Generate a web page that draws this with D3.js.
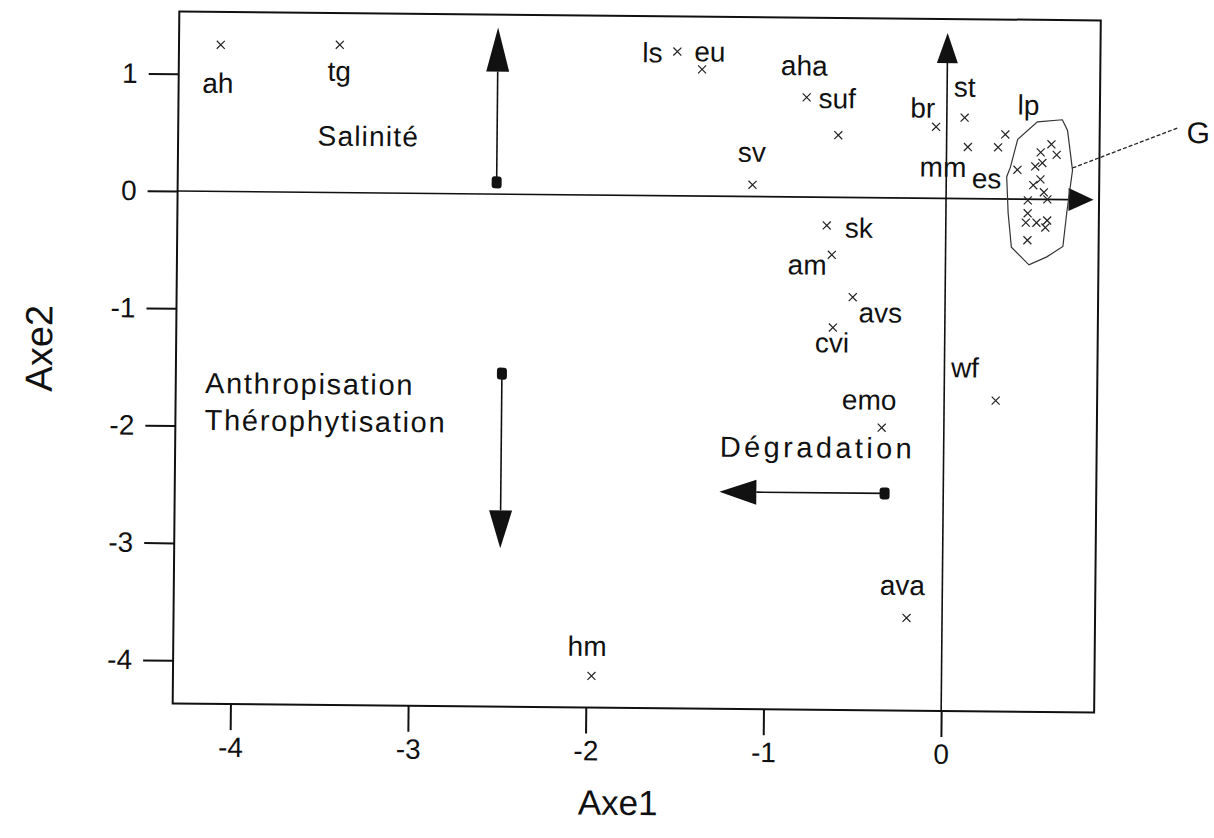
<!DOCTYPE html>
<html>
<head>
<meta charset="utf-8">
<script src="https://cdn.jsdelivr.net/npm/d3@7"></script>
<style>
  html, body { margin: 0; background: #fff; }
  svg { display: block; }
  text { font-family: "Liberation Sans", Arial, sans-serif; fill: #111; }
</style>
</head>
<body>
<svg id="chart" width="1214" height="838"></svg>
<script>
// Species scores on the first two ordination axes
const speciesCodes = ["ah", "tg", "ls", "eu", "aha", "suf", "sv", "br", "st", "mm", "lp", "es", "sk", "am", "avs", "cvi", "emo", "wf", "ava", "hm"];
const speciesAxe1 = [-4.09, -3.42, -1.52, -1.38, -0.79, -0.61, -1.09, -0.06, 0.10, 0.12, 0.33, 0.29, -0.67, -0.64, -0.52, -0.63, -0.35, 0.29, -0.20, -1.97];
const speciesAxe2 = [1.25, 1.26, 1.23, 1.08, 0.85, 0.53, 0.10, 0.61, 0.69, 0.44, 0.55, 0.44, -0.24, -0.49, -0.85, -1.11, -1.96, -1.72, -3.58, -4.10];

// Unlabelled species forming group G
const groupGAxe1 = [0.40, 0.53, 0.59, 0.62, 0.54, 0.50, 0.53, 0.49, 0.55, 0.46, 0.57, 0.46, 0.45, 0.51, 0.57, 0.56, 0.46];
const groupGAxe2 = [0.25, 0.40, 0.47, 0.38, 0.31, 0.28, 0.17, 0.12, 0.06, -0.01, 0.00, -0.12, -0.20, -0.20, -0.18, -0.24, -0.35];

// Outline drawn round group G and the leader to its letter
const groupGHullAxe1 = [0.36, 0.40, 0.51, 0.65, 0.68, 0.71, 0.68, 0.66, 0.57, 0.47, 0.37, 0.35, 0.34];
const groupGHullAxe2 = [0.27, 0.51, 0.66, 0.68, 0.59, 0.25, -0.11, -0.40, -0.49, -0.56, -0.41, -0.12, 0.19];
const groupGLeaderAxe1 = [0.71, 1.30];
const groupGLeaderAxe2 = [0.27, 0.62];
const groupGName = "G";

// Ecological gradients (arrow from dot to head)
const gradientNames = [["Salinité"], ["Anthropisation", "Thérophytisation"], ["Dégradation"]];
const gradientFromAxe1 = [-2.53, -2.49, -0.33];
const gradientFromAxe2 = [0.10, -1.53, -2.52];
const gradientToAxe1 = [-2.53, -2.49, -1.26];
const gradientToAxe2 = [1.42, -3.02, -2.52];

// Axis ticks and titles
const xTicks = [-4, -3, -2, -1, 0];
const yTicks = [1, 0, -1, -2, -3, -4];
const xTitle = "Axe1";
const yTitle = "Axe2";

// ---- layout ----
const W = 1214, H = 838;
const plot = { left: 176, right: 1097.5, top: 16, bottom: 708 };
const tilt = 0.55; // the printed figure sits slightly askew

// label offsets (pixels) from each species marker: [dx, dy] to text start / baseline
const labelOffset = {
  ah: [-18, 48], tg: [-12, 36], ls: [-35, 11], eu: [-8, -8], aha: [-26, -22], suf: [-20, -27],
  sv: [-15, -23], br: [-26, -9], st: [-11, -21], mm: [-48, 30], lp: [12, -20], es: [-26, 41],
  sk: [18, 12], am: [-44, 20], avs: [6, 25], cvi: [-18, 25], emo: [-40, -18], wf: [-45, -23],
  ava: [-27, -23], hm: [-24, -20]
};
// text anchors of the gradient names, in axis units
const gradientLabelAxe1 = [-3.54, -4.16, -1.26];
const gradientLabelAxe2 = [0.40, -1.72, -2.22];
const gradientFontSize = [28, 29, 29];
const gradientLetterSpacing = [1.2, 1.7, 3.4];
// arrow heads: [length, width]
const gradientHead = [[44, 23], [38, 23], [37, 25]];

const x = d3.scaleLinear().domain([-4.325, 0.861]).range([plot.left, plot.right]);
const y = d3.scaleLinear().domain([-4.37, 1.53]).range([plot.bottom, plot.top]);

const svg = d3.select("#chart");
svg.append("rect").attr("width", W).attr("height", H).attr("fill", "#fff");

const g = svg.append("g")
  .attr("transform", `rotate(${tilt}, ${(plot.left + plot.right) / 2}, ${(plot.top + plot.bottom) / 2 - 2})`);

// arrow helper: line from start to tip with a filled triangular head
function arrow(parent, x0, y0, x1, y1, len, wid, dot) {
  const dx = x1 - x0, dy = y1 - y0, d = Math.hypot(dx, dy);
  const ux = dx / d, uy = dy / d, px = -uy, py = ux;
  const bx = x1 - ux * len, by = y1 - uy * len;
  parent.append("line")
    .attr("x1", x0).attr("y1", y0).attr("x2", bx).attr("y2", by)
    .attr("stroke", "#111").attr("stroke-width", 1.6);
  parent.append("path")
    .attr("d", `M${x1},${y1}L${bx + px * wid / 2},${by + py * wid / 2}L${bx - px * wid / 2},${by - py * wid / 2}Z`)
    .attr("fill", "#111");
  if (dot) {
    parent.append("rect")
      .attr("x", x0 - 5).attr("y", y0 - 6).attr("width", 10).attr("height", 12)
      .attr("rx", 3).attr("fill", "#111");
  }
}

// ---- axes ----
const xAxis = g.append("g")
  .attr("transform", `translate(0,${plot.bottom})`)
  .call(d3.axisBottom(x).tickValues(xTicks).tickFormat(d => String(d)).tickSize(26).tickPadding(7));
const yAxis = g.append("g")
  .attr("transform", `translate(${plot.left},0)`)
  .call(d3.axisLeft(y).tickValues(yTicks).tickFormat(d => String(d)).tickSize(30).tickPadding(11));
[xAxis, yAxis].forEach(a => {
  a.select(".domain").remove();
  a.selectAll(".tick line").attr("stroke", "#111").attr("stroke-width", 2);
  a.selectAll(".tick text").attr("font-size", 28).attr("fill", "#111")
    .style("font-family", "'Liberation Sans', Arial, sans-serif");
});

// frame
g.append("rect")
  .attr("x", plot.left).attr("y", plot.top)
  .attr("width", plot.right - plot.left).attr("height", plot.bottom - plot.top)
  .attr("fill", "none").attr("stroke", "#111").attr("stroke-width", 2);

// axes through the origin, drawn as arrows
arrow(g, plot.left, y(0), x(0.83), y(0), 25, 23, false);
arrow(g, x(0), plot.bottom, x(0), y(1.41), 30, 21, false);

// axis titles
g.append("text")
  .attr("x", 622).attr("y", 815)
  .attr("text-anchor", "middle").attr("font-size", 35)
  .text(xTitle);
g.append("text")
  .attr("transform", `translate(52,354) rotate(-90)`)
  .attr("text-anchor", "middle").attr("font-size", 38)
  .text(yTitle);

// ---- group G ----
const hull = groupGHullAxe1.map((v, i) => [x(v), y(groupGHullAxe2[i])]);
g.append("path")
  .attr("d", d3.line().curve(d3.curveLinearClosed)(hull))
  .attr("fill", "none").attr("stroke", "#333").attr("stroke-width", 1.2);
g.append("line")
  .attr("x1", x(groupGLeaderAxe1[0])).attr("y1", y(groupGLeaderAxe2[0]))
  .attr("x2", x(groupGLeaderAxe1[1])).attr("y2", y(groupGLeaderAxe2[1]))
  .attr("stroke", "#222").attr("stroke-width", 1.3).attr("stroke-dasharray", "4,2");
g.append("text")
  .attr("x", x(groupGLeaderAxe1[1]) + 9).attr("y", y(groupGLeaderAxe2[1]) + 15)
  .attr("font-size", 30).text(groupGName);

// ---- species markers ----
const cross = "M-4,-4L4,4M-4,4L4,-4";
const species = speciesCodes.map((c, i) => ({ code: c, a1: speciesAxe1[i], a2: speciesAxe2[i] }));
const groupG = groupGAxe1.map((v, i) => ({ a1: v, a2: groupGAxe2[i] }));

g.append("g").selectAll("path")
  .data(species.concat(groupG))
  .join("path")
  .attr("transform", d => `translate(${x(d.a1)},${y(d.a2)})`)
  .attr("d", cross)
  .attr("stroke", "#222").attr("stroke-width", 1.2).attr("fill", "none");

g.append("g").selectAll("text")
  .data(species)
  .join("text")
  .attr("x", d => x(d.a1) + labelOffset[d.code][0])
  .attr("y", d => y(d.a2) + labelOffset[d.code][1])
  .attr("font-size", 28)
  .text(d => d.code);

// ---- gradients ----
gradientNames.forEach((lines, i) => {
  arrow(g, x(gradientFromAxe1[i]), y(gradientFromAxe2[i]), x(gradientToAxe1[i]), y(gradientToAxe2[i]),
    gradientHead[i][0], gradientHead[i][1], true);
  const t = g.append("text")
    .attr("x", x(gradientLabelAxe1[i])).attr("y", y(gradientLabelAxe2[i]))
    .attr("font-size", gradientFontSize[i]).attr("letter-spacing", gradientLetterSpacing[i]);
  lines.forEach((ln, k) => {
    t.append("tspan").attr("x", x(gradientLabelAxe1[i])).attr("dy", k === 0 ? 0 : 37).text(ln);
  });
});
</script>
</body>
</html>
